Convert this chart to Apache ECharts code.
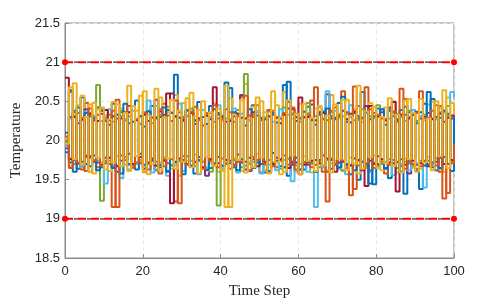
<!DOCTYPE html>
<html><head><meta charset="utf-8">
<script src="https://cdn.jsdelivr.net/npm/echarts@6/dist/echarts.min.js"></script>
<style>html,body{margin:0;padding:0;background:#fff}#c{width:501px;height:299px}</style>
</head><body><div id="c"></div>
<script>
const xTicks = [0, 20, 40, 60, 80, 100];
const yTicks = [18.5, 19, 19.5, 20, 20.5, 21, 21.5];
const limitUpper = 21;
const limitLower = 19;
const seriesColors = ['#0072BD','#D95319','#EDB120','#7E2F8E','#77AC30','#4DBEEE','#A2142F','#0072BD','#D95319','#EDB120'];

const s1 = [20.10,19.72,20.38,19.64,20.55,19.70,20.31,19.81,20.42,19.66,
20.25,19.78,20.47,19.60,20.36,19.75,20.22,19.69,20.51,19.83,
20.18,19.71,20.44,19.62,20.30,19.77,20.39,19.68,20.84,19.74,
20.27,19.80,20.35,19.58,20.49,19.73,20.21,19.65,20.40,19.79,
20.26,19.70,20.67,19.66,20.33,19.76,20.19,19.61,20.45,19.72,
20.29,19.59,20.38,19.84,20.23,19.67,20.71,19.55,20.34,19.78,
20.28,19.63,20.43,19.71,20.20,19.75,20.37,19.60,20.31,19.69,
20.48,19.74,20.24,19.57,20.35,19.50,20.62,19.70,20.27,19.44,
20.41,19.76,20.20,19.52,20.31,19.73,20.39,19.32,20.36,19.66,
20.22,19.38,20.47,19.70,20.53,19.62,20.29,19.79,20.34,19.61,20.12];
const s2 = [19.95,20.62,19.70,20.35,19.63,20.48,19.78,20.29,19.66,20.41,
19.74,20.33,19.15,20.52,19.81,20.26,19.69,20.44,19.72,20.21,
19.60,20.38,19.76,20.30,19.58,20.47,19.71,20.25,19.22,20.36,
19.80,20.31,19.67,20.43,19.74,20.19,19.62,20.35,19.70,20.28,
19.77,20.40,19.64,20.24,19.73,20.56,19.68,20.32,19.79,20.45,
19.59,20.27,19.75,20.38,19.66,20.22,19.81,20.49,19.71,20.34,
19.63,20.29,19.74,20.51,19.69,20.37,19.60,20.26,19.77,20.42,
19.72,20.63,19.65,20.30,19.38,20.44,19.73,20.68,19.62,20.35,
19.70,20.28,19.58,20.40,19.75,20.24,19.67,20.53,19.71,20.33,
19.64,20.63,19.74,20.29,19.69,20.45,19.60,20.38,19.33,20.31,19.80];
const s3 = [20.02,19.67,20.73,19.70,20.57,19.78,20.46,19.58,20.40,19.72,
20.32,19.61,20.49,19.80,20.41,19.69,20.70,19.66,20.38,19.75,
20.63,19.57,20.29,19.68,20.55,19.79,20.36,19.64,20.58,19.55,
20.48,19.74,20.61,19.82,20.39,19.66,20.31,19.71,20.47,19.60,
20.25,19.15,20.54,19.77,20.33,19.61,20.72,19.73,20.43,19.83,
20.50,19.62,20.30,19.68,20.45,19.57,20.62,19.76,20.28,19.60,
20.47,19.80,20.35,19.59,20.41,19.70,20.27,19.62,20.58,19.74,
20.34,19.61,20.52,19.78,20.40,19.58,20.24,19.65,20.48,19.81,
20.30,19.62,20.42,19.72,20.50,19.59,20.33,19.77,20.53,19.66,
20.37,19.64,20.26,19.79,20.49,19.68,20.41,19.60,20.55,19.74,20.35];
const s4 = [19.90,20.30,19.75,20.22,19.68,20.40,19.80,20.26,19.72,20.34,
19.78,20.20,19.66,20.28,19.74,20.36,19.83,20.44,19.70,20.31,
19.64,20.25,19.77,20.52,19.69,20.33,19.61,20.60,19.73,20.29,
19.75,20.38,19.67,20.21,19.79,20.30,19.55,20.27,19.71,20.35,
19.68,20.24,19.74,20.31,19.82,20.58,19.63,20.26,19.76,20.37,
19.70,20.29,19.60,20.33,19.78,20.22,19.66,20.41,19.73,20.25,
19.57,20.30,19.69,20.46,19.75,20.35,19.81,20.59,19.64,20.27,
19.72,20.38,19.68,20.23,19.77,20.31,19.62,20.44,19.74,20.29,
19.80,20.36,19.65,20.42,19.71,20.26,19.76,20.33,19.58,20.39,
19.69,20.28,19.73,20.35,19.66,20.30,19.78,20.24,19.70,20.32,19.85];
const s5 = [19.98,19.77,20.32,19.70,20.26,19.81,20.35,19.75,20.71,19.23,
20.29,19.74,20.24,19.68,20.38,19.79,20.31,19.65,20.27,19.72,
20.36,19.70,20.22,19.63,20.33,19.76,20.43,19.69,20.30,19.74,
20.25,19.80,20.41,19.67,20.28,19.73,20.35,19.60,20.24,19.17,
20.32,19.71,20.27,19.75,20.39,19.66,20.85,19.70,20.30,19.74,
20.26,19.69,20.37,19.72,20.29,19.64,20.42,19.77,20.33,19.68,
20.24,19.73,20.48,19.70,20.31,19.66,20.28,19.75,20.36,19.71,
20.29,19.62,20.34,19.69,20.26,19.74,20.40,19.67,20.31,19.72,
20.45,19.70,20.27,19.76,20.35,19.65,20.30,19.73,20.38,19.68,
20.25,19.74,20.33,19.69,20.28,19.77,20.36,19.70,20.44,19.73,20.10];
const s6 = [19.92,20.28,19.71,20.43,19.66,20.37,19.60,20.31,19.74,20.25,
19.45,20.40,19.68,20.33,19.52,20.27,19.63,20.38,19.70,20.22,
19.66,20.51,19.59,20.44,19.72,20.29,19.55,20.36,19.68,20.47,
19.61,20.32,19.74,20.25,19.57,20.39,19.66,20.30,19.70,20.45,
19.64,20.28,19.72,20.41,19.59,20.34,19.67,20.26,19.73,20.37,
19.58,20.30,19.69,20.24,19.62,20.40,19.75,20.33,19.48,20.29,
19.70,20.36,19.60,20.27,19.15,20.42,19.66,20.63,19.71,20.38,
19.64,20.31,19.57,20.45,19.69,20.26,19.72,20.35,19.60,20.29,
19.67,20.40,19.73,20.28,19.56,20.34,19.70,20.25,19.62,20.39,
19.71,20.31,19.40,20.46,19.68,20.27,19.64,20.36,19.70,20.62,20.55];
const s7 = [20.80,19.76,20.30,19.71,20.27,19.80,20.34,19.73,20.25,19.69,
20.39,19.78,20.31,19.67,20.28,19.75,20.36,19.70,20.26,19.79,
20.33,19.72,20.29,19.68,20.37,19.74,20.60,19.20,20.31,19.77,
20.26,19.70,20.35,19.73,20.28,19.66,20.32,19.76,20.68,19.71,
20.30,19.75,20.25,19.69,20.34,19.72,20.28,19.78,20.36,19.67,
20.27,19.73,20.31,19.70,20.29,19.76,20.33,19.65,20.40,19.72,
20.55,19.69,20.30,19.74,20.26,19.71,20.35,19.77,20.28,19.60,
20.32,19.73,20.27,19.68,20.37,19.75,20.29,19.42,20.44,19.70,
20.31,19.76,20.26,19.72,20.49,19.35,20.33,19.69,20.28,19.74,
20.36,19.71,20.30,19.67,20.27,19.73,20.34,19.70,20.29,19.75,20.05];
const s8 = [19.85,20.64,19.60,20.42,19.73,20.35,19.67,20.29,19.62,20.38,
19.71,20.26,19.65,20.33,19.58,20.47,19.70,20.24,19.63,20.31,
19.69,20.37,19.74,20.28,19.66,20.42,19.60,20.35,19.72,20.29,
19.57,20.39,19.68,20.26,19.75,20.30,19.63,20.44,19.70,20.33,
19.67,20.74,19.71,20.36,19.62,20.29,19.73,20.40,19.65,20.32,
19.70,20.27,19.61,20.35,19.74,20.28,19.66,20.75,19.69,20.30,
19.63,20.37,19.72,20.26,19.60,20.33,19.68,20.41,19.75,20.29,
19.66,20.56,19.70,20.34,19.62,20.28,19.73,20.36,19.45,20.31,
19.69,20.40,19.64,20.38,19.71,20.27,19.60,20.43,19.74,20.33,
19.61,20.36,19.68,20.62,19.72,20.30,19.65,20.38,19.70,20.28,19.75];
const s9 = [20.05,19.65,20.36,19.72,20.29,19.61,20.41,19.74,20.33,19.68,
20.26,19.70,20.38,19.15,20.31,19.75,20.44,19.66,20.27,19.71,
20.35,19.63,20.29,19.73,20.40,19.67,20.32,19.76,20.51,19.20,
20.30,19.69,20.37,19.72,20.26,19.64,20.34,19.74,20.45,19.66,
20.28,19.71,20.36,19.68,20.31,19.73,20.57,19.62,20.33,19.75,
20.27,19.70,20.39,19.67,20.30,19.74,20.35,19.69,20.42,19.63,
20.29,19.72,20.33,19.66,20.68,19.73,20.27,19.22,20.38,19.70,
20.31,19.74,20.36,19.30,20.69,19.68,20.28,19.71,20.40,19.65,
20.33,19.73,20.27,19.69,20.37,19.72,20.66,19.64,20.30,19.70,
20.35,19.67,20.29,19.74,20.38,19.68,20.44,19.26,20.32,19.71,19.95];
const s10 = [19.96,20.68,19.76,20.45,19.69,20.30,19.60,20.48,19.78,20.42,
19.63,20.27,19.72,20.46,19.67,20.35,19.61,20.44,19.80,20.57,
19.59,20.32,19.70,20.66,19.62,20.29,19.77,20.52,19.64,20.38,
19.73,20.54,19.66,20.31,19.58,20.50,19.79,20.36,19.68,20.41,
19.61,20.70,19.15,20.33,19.75,20.52,19.59,20.28,19.66,20.55,
19.78,20.36,19.58,20.63,19.72,20.30,19.60,20.51,19.81,20.34,
19.57,20.47,19.74,20.29,19.61,20.44,19.68,20.32,19.59,20.46,
19.76,20.52,19.62,20.31,19.70,20.70,19.64,20.37,19.79,20.43,
19.65,20.30,19.71,20.54,19.67,20.33,19.59,20.51,19.76,20.35,
19.60,20.53,19.72,20.28,19.62,20.50,19.80,20.64,19.65,20.48,20.35];

const allSeries = [s1,s2,s3,s4,s5,s6,s7,s8,s9,s10];

const stairs = allSeries.map((arr, k) => ({
  type: 'line', step: 'end', showSymbol: false, silent: true,
  data: arr.map((v, i) => [i, v]),
  lineStyle: { color: seriesColors[k], width: 2 },
  itemStyle: { color: seriesColors[k] },
  z: 2 + k
}));

function limitLine(val) {
  return [
    { type: 'line', data: [[xTicks[0], val], [xTicks[xTicks.length-1], val]], showSymbol: false, silent: true,
      lineStyle: { color: '#333', width: 1.2, type: [4, 9], dashOffset: 4 }, z: 30 },
    { type: 'line', data: [[xTicks[0], val], [xTicks[xTicks.length-1], val]], symbol: 'circle', symbolSize: 6, silent: true,
      itemStyle: { color: '#ff0000' },
      lineStyle: { color: '#ff0000', width: 2, type: [8, 5] }, z: 31 }
  ];
}

const chart = echarts.init(document.getElementById('c'), null, { renderer: 'canvas' });
chart.setOption({
  animation: false,
  backgroundColor: '#fff',
  grid: { left: 65, right: 47, top: 23, bottom: 41, outerBoundsMode: 'none', containLabel: false,
          show: true, borderColor: '#8a8a8a', borderWidth: 1, backgroundColor: 'transparent' },
  xAxis: {
    type: 'value', min: 0, max: 100, interval: 20,
    name: 'Time Step', nameLocation: 'middle', nameGap: 26,
    nameTextStyle: { fontFamily: 'Liberation Serif', fontSize: 15, color: '#262626' },
    axisLine: { show: true, lineStyle: { color: '#8a8a8a' } },
    axisTick: { show: true, inside: true, length: 4, lineStyle: { color: '#8a8a8a' } },
    axisLabel: { fontFamily: 'Liberation Sans', fontSize: 13, color: '#262626', margin: 7 },
    splitLine: { show: true, lineStyle: { color: '#e8e8e8', type: [4, 3] } }
  },
  yAxis: {
    type: 'value', min: 18.5, max: 21.5, interval: 0.5,
    name: 'Temperature', nameLocation: 'middle', nameGap: 34,
    nameTextStyle: { fontFamily: 'Liberation Serif', fontSize: 15, color: '#262626' },
    axisLine: { show: true, lineStyle: { color: '#8a8a8a' } },
    axisTick: { show: true, inside: true, length: 4, lineStyle: { color: '#8a8a8a' } },
    axisLabel: { fontFamily: 'Liberation Sans', fontSize: 13, color: '#262626', margin: 5 },
    splitLine: { show: true, lineStyle: { color: '#e8e8e8', type: [4, 3] } }
  },
  series: stairs.concat(limitLine(limitUpper), limitLine(limitLower))
});
</script></body></html>
